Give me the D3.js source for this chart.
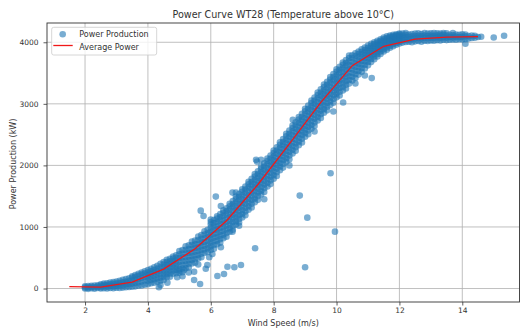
<!DOCTYPE html>
<html>
<head>
<meta charset="utf-8">
<script src="https://cdn.jsdelivr.net/npm/d3@7"></script>
<style>
  body { margin: 0; background: #fff; }
  svg { display: block; font-family: "DejaVu Sans", sans-serif; }
</style>
</head>
<body>
<div id="chart"></div>
<script>
// tick labels
const xTicks = [2, 4, 6, 8, 10, 12, 14];
const yTicks = [0, 1000, 2000, 3000, 4000];

// binned average power (red line)
const avgSpeed = [1.5, 2.5, 3.5, 4.5, 5.5, 6.5, 7.5, 8.5, 9.5, 10.5, 11.5, 12.5, 13.5, 14.5];
const avgPower = [30, 22, 105, 315, 645, 1100, 1690, 2350, 3025, 3620, 3935, 4052, 4082, 4092];

// main cloud of measurements, one column per wind speed
const bandSpeed = [
  2.0, 2.1, 2.2, 2.3, 2.4, 2.5, 2.6, 2.7, 2.8, 2.9,
  3.0, 3.1, 3.2, 3.3, 3.4, 3.5, 3.6, 3.7, 3.8, 3.9,
  4.0, 4.1, 4.2, 4.3, 4.4, 4.5, 4.6, 4.7, 4.8, 4.9,
  5.0, 5.1, 5.2, 5.3, 5.4, 5.5, 5.6, 5.7, 5.8, 5.9,
  6.0, 6.1, 6.2, 6.3, 6.4, 6.5, 6.6, 6.7, 6.8, 6.9,
  7.0, 7.1, 7.2, 7.3, 7.4, 7.5, 7.6, 7.7, 7.8, 7.9,
  8.0, 8.1, 8.2, 8.3, 8.4, 8.5, 8.6, 8.7, 8.8, 8.9,
  9.0, 9.1, 9.2, 9.3, 9.4, 9.5, 9.6, 9.7, 9.8, 9.9,
  10.0, 10.1, 10.2, 10.3, 10.4, 10.5, 10.6, 10.7, 10.8, 10.9,
  11.0, 11.1, 11.2, 11.3, 11.4, 11.5, 11.6, 11.7, 11.8, 11.9,
  12.0, 12.1, 12.2, 12.3, 12.4, 12.5, 12.6, 12.7, 12.8, 12.9,
  13.0, 13.1, 13.2, 13.3, 13.4, 13.5, 13.6, 13.7, 13.8, 13.9,
  14.0, 14.1, 14.2, 14.3, 14.4, 14.5, 14.6
];
const bandPower = [
  [0, 18, 36], [-5, 15, 40], [5, 25, 45], [-3, 20, 48], [8, 30, 52],
  [0, 22, 50, 70], [5, 35, 62, 80], [2, 30, 58, 85], [10, 40, 70, 95], [5, 35, 75, 105],
  [12, 45, 80, 115], [8, 50, 90, 125], [15, 55, 100, 140], [20, 65, 110, 155], [25, 70, 120, 165],
  [30, 80, 130, 180, 200], [35, 90, 140, 190, 220], [45, 100, 155, 205, 240], [50, 115, 170, 225, 260], [60, 130, 190, 245, 280],
  [70, 125, 175, 220, 260, 300], [85, 140, 190, 240, 280, 320], [95, 150, 205, 255, 300, 345], [110, 165, 220, 270, 320, 370], [125, 180, 235, 290, 345, 400],
  [140, 190, 240, 290, 340, 390, 430], [186, 236, 286, 336, 386, 431, 466], [193, 243, 293, 343, 393, 443, 483], [241, 291, 341, 391, 441, 486, 521], [250, 300, 350, 400, 450, 500, 540],
  [255, 315, 375, 435, 495, 555, 610], [266, 326, 386, 446, 506, 566, 626], [329, 389, 449, 509, 569, 629, 684], [342, 402, 462, 522, 582, 642, 702], [406, 466, 526, 586, 646, 706, 761],
  [420, 480, 540, 600, 660, 720, 780], [488, 548, 608, 668, 728, 788, 843], [507, 567, 627, 687, 747, 807, 867], [576, 636, 696, 756, 816, 876, 931], [595, 655, 715, 775, 835, 895, 955],
  [625, 685, 745, 805, 865, 925, 985, 1040, 1080], [647, 707, 767, 827, 887, 947, 1007, 1062, 1112],
  [720, 780, 840, 900, 960, 1020, 1080, 1135, 1175], [743, 803, 863, 923, 983, 1043, 1103, 1158, 1208],
  [816, 876, 936, 996, 1056, 1116, 1176, 1231, 1271], [840, 900, 960, 1020, 1080, 1140, 1200, 1255, 1305],
  [922, 982, 1042, 1102, 1162, 1222, 1282, 1337, 1377], [955, 1015, 1075, 1135, 1195, 1255, 1315, 1370, 1420],
  [1038, 1098, 1158, 1218, 1278, 1338, 1398, 1453, 1493], [1071, 1131, 1191, 1251, 1311, 1371, 1431, 1486, 1536],
  [1155, 1215, 1275, 1335, 1395, 1455, 1515, 1570, 1610], [1192, 1252, 1312, 1372, 1432, 1492, 1552, 1607, 1657],
  [1279, 1339, 1399, 1459, 1519, 1579, 1639, 1694, 1734], [1316, 1376, 1436, 1496, 1556, 1616, 1676, 1731, 1781],
  [1403, 1463, 1523, 1583, 1643, 1703, 1763, 1818, 1858], [1440, 1500, 1560, 1620, 1680, 1740, 1800, 1855, 1905],
  [1529, 1589, 1649, 1709, 1769, 1829, 1889, 1944, 1984], [1568, 1628, 1688, 1748, 1808, 1868, 1928, 1983, 2033],
  [1657, 1717, 1777, 1837, 1897, 1957, 2017, 2072, 2112], [1696, 1756, 1816, 1876, 1936, 1996, 2056, 2111, 2161],
  [1785, 1845, 1905, 1965, 2025, 2085, 2145, 2200, 2240], [1828, 1888, 1948, 2008, 2068, 2128, 2188, 2243, 2293],
  [1921, 1981, 2041, 2101, 2161, 2221, 2281, 2336, 2376], [1964, 2024, 2084, 2144, 2204, 2264, 2324, 2379, 2429],
  [2057, 2117, 2177, 2237, 2297, 2357, 2417, 2472, 2512], [2100, 2160, 2220, 2280, 2340, 2400, 2460, 2515, 2565],
  [2193, 2253, 2313, 2373, 2433, 2493, 2553, 2608, 2648], [2236, 2296, 2356, 2416, 2476, 2536, 2596, 2651, 2701],
  [2329, 2389, 2449, 2509, 2569, 2629, 2689, 2744, 2784], [2372, 2432, 2492, 2552, 2612, 2672, 2732, 2787, 2837],
  [2465, 2525, 2585, 2645, 2705, 2765, 2825, 2880, 2920], [2506, 2566, 2626, 2686, 2746, 2806, 2866, 2921, 2971],
  [2597, 2657, 2717, 2777, 2837, 2897, 2957, 3012, 3052], [2638, 2698, 2758, 2818, 2878, 2938, 2998, 3053, 3103],
  [2729, 2789, 2849, 2909, 2969, 3029, 3089, 3144, 3184], [2770, 2830, 2890, 2950, 3010, 3070, 3130, 3185, 3235],
  [2857, 2917, 2977, 3037, 3097, 3157, 3217, 3272, 3312], [2894, 2954, 3014, 3074, 3134, 3194, 3254, 3309, 3359],
  [2981, 3041, 3101, 3161, 3221, 3281, 3341, 3396, 3436], [3018, 3078, 3138, 3198, 3258, 3318, 3378, 3433, 3483],
  [3105, 3165, 3225, 3285, 3345, 3405, 3465, 3520, 3560], [3136, 3196, 3256, 3316, 3376, 3436, 3496, 3551, 3601],
  [3217, 3277, 3337, 3397, 3457, 3517, 3577, 3632, 3672], [3248, 3308, 3368, 3428, 3488, 3548, 3608, 3663, 3713],
  [3329, 3389, 3449, 3509, 3569, 3629, 3689, 3744, 3784],
  [3380, 3440, 3500, 3560, 3620, 3680, 3740, 3790], [3420, 3480, 3540, 3600, 3660, 3720, 3775, 3820],
  [3475, 3535, 3595, 3650, 3705, 3760, 3810, 3850], [3520, 3580, 3640, 3695, 3750, 3800, 3845, 3885],
  [3575, 3635, 3690, 3740, 3790, 3835, 3875, 3915], [3625, 3680, 3735, 3785, 3830, 3870, 3910, 3945],
  [3680, 3730, 3780, 3825, 3865, 3905, 3940, 3975], [3725, 3770, 3815, 3855, 3895, 3935, 3970, 4000],
  [3770, 3810, 3850, 3890, 3925, 3960, 3995, 4025], [3810, 3850, 3890, 3925, 3960, 3995, 4025, 4050],
  [3850, 3885, 3920, 3955, 3990, 4020, 4050, 4075], [3880, 3915, 3950, 3985, 4015, 4045, 4070, 4095],
  [3910, 3945, 3980, 4010, 4040, 4065, 4090, 4110], [3935, 3970, 4000, 4030, 4055, 4080, 4100, 4120],
  [3960, 3990, 4020, 4045, 4070, 4095, 4115, 4130], [3980, 4010, 4035, 4060, 4085, 4105, 4125, 4140],
  [3995, 4035, 4075, 4110, 4140], [4005, 4045, 4085, 4120, 4150], [4010, 4050, 4090, 4125], [4000, 4055, 4095, 4135],
  [4015, 4060, 4100, 4140], [4020, 4065, 4105, 4145], [4010, 4060, 4100, 4135], [4025, 4070, 4110, 4150], [4020, 4065, 4105, 4140],
  [4030, 4075, 4110, 4145], [4025, 4070, 4105, 4150], [4035, 4080, 4115, 4145], [4030, 4070, 4110, 4140], [4040, 4080, 4120, 4150],
  [4035, 4075, 4110, 4145], [4040, 4085, 4120], [4045, 4080, 4115, 4150], [4040, 4090, 4125], [4050, 4085, 4120],
  [4045, 4090, 4130], [4055, 4095, 4125], [4060, 4100], [4070, 4110], [4075, 4105],
  [4085], [4090]
];

// scattered points away from the main cloud
const outlierSpeed = [7.44, 9.81, 8.83, 9.07, 9.95, 7.41, 9.0, 10.21, 9.9, 6.16,
  5.68, 5.77, 6.69, 6.32, 6.69, 6.32, 5.95, 5.84, 6.53, 6.75,
  6.96, 6.21, 6.42, 5.47, 5.66, 4.99, 4.93, 4.35, 5.47, 8.61,
  11.12, 10.9, 15.0, 15.33, 14.1, 5.15, 5.89, 4.4, 7.47,
  4.62, 5.1, 5.3, 5.6, 6.05, 6.9, 7.7, 8.5, 9.3, 10.6, 6.0, 6.8, 7.6];
const outlierPower = [2090, 1873, 1509, 1151, 924, 654, 345, 3021, 2875, 1493,
  1265, 1179, 1558, 1341, 924, 670, 507, 322, 354, 345,
  382, 203, 236, 138, 73, 289, 182, 20, 273, 2740,
  3418, 3460, 4078, 4105, 3975, 300, 382, 57, 2062,
  95, 200, 260, 390, 560, 1020, 1450, 2000, 2550, 3330, 1120, 1560, 2090];

const width = 521, height = 331;
const plot = { left: 47, right: 519.5, top: 23, bottom: 302 };

const svg = d3
  .select("#chart")
  .append("svg")
  .attr("width", width)
  .attr("height", height);

const x = d3.scaleLinear().domain([0.79, 15.82]).range([plot.left, plot.right]);
const y = d3.scaleLinear().domain([-219, 4313]).range([plot.bottom, plot.top]);

// grid
svg
  .append("g")
  .selectAll("line")
  .data(xTicks)
  .join("line")
  .attr("x1", (d) => x(d))
  .attr("x2", (d) => x(d))
  .attr("y1", plot.top)
  .attr("y2", plot.bottom)
  .attr("stroke", "#b0b0b0")
  .attr("stroke-width", 0.8);
svg
  .append("g")
  .selectAll("line")
  .data(yTicks)
  .join("line")
  .attr("x1", plot.left)
  .attr("x2", plot.right)
  .attr("y1", (d) => y(d))
  .attr("y2", (d) => y(d))
  .attr("stroke", "#b0b0b0")
  .attr("stroke-width", 0.8);

const points = [];
bandSpeed.forEach((s, i) => {
  bandPower[i].forEach((p) => points.push({ s: s, p: p }));
});
outlierSpeed.forEach((s, i) => points.push({ s: s, p: outlierPower[i] }));

svg
  .append("g")
  .selectAll("circle")
  .data(points)
  .join("circle")
  .attr("cx", (d) => x(d.s))
  .attr("cy", (d) => y(d.p))
  .attr("r", 3.3)
  .attr("fill", "#1f77b4")
  .attr("fill-opacity", 0.6);

const line = d3
  .line()
  .x((d, i) => x(avgSpeed[i]))
  .y((d) => y(d));

svg
  .append("path")
  .datum(avgPower)
  .attr("d", line)
  .attr("fill", "none")
  .attr("stroke", "#f01818")
  .attr("stroke-width", 1.3);

// frame
svg
  .append("rect")
  .attr("x", plot.left)
  .attr("y", plot.top)
  .attr("width", plot.right - plot.left)
  .attr("height", plot.bottom - plot.top)
  .attr("fill", "none")
  .attr("stroke", "#333")
  .attr("stroke-width", 0.9);

const xAxis = svg
  .append("g")
  .attr("transform", `translate(0,${plot.bottom})`)
  .call(d3.axisBottom(x).tickValues(xTicks).tickSize(3.5).tickPadding(2.5).tickFormat(d3.format("d")));
const yAxis = svg
  .append("g")
  .attr("transform", `translate(${plot.left},0)`)
  .call(d3.axisLeft(y).tickValues(yTicks).tickSize(3.5).tickPadding(5).tickFormat(d3.format("d")));

[xAxis, yAxis].forEach((g) => {
  g.select(".domain").remove();
  g.selectAll("line").attr("stroke", "#333").attr("stroke-width", 0.8);
  g.selectAll("text")
    .attr("fill", "#333")
    .style("font-family", "DejaVu Sans")
    .style("font-size", "7.5px");
});

svg
  .append("text")
  .attr("x", (plot.left + plot.right) / 2)
  .attr("y", 326)
  .attr("text-anchor", "middle")
  .attr("font-size", 8)
  .attr("fill", "#333")
  .text("Wind Speed (m/s)");

svg
  .append("text")
  .attr("transform", `translate(16,164) rotate(-90)`)
  .attr("text-anchor", "middle")
  .attr("font-size", 8)
  .attr("fill", "#333")
  .text("Power Production (kW)");

svg
  .append("text")
  .attr("x", (plot.left + plot.right) / 2)
  .attr("y", 17.5)
  .attr("text-anchor", "middle")
  .attr("font-size", 9.6)
  .attr("fill", "#333")
  .text("Power Curve WT28 (Temperature above 10°C)");

// legend
const legend = svg.append("g");
legend
  .append("rect")
  .attr("x", 51.7)
  .attr("y", 27.3)
  .attr("width", 105)
  .attr("height", 27.7)
  .attr("rx", 2)
  .attr("fill", "#fff")
  .attr("fill-opacity", 0.8)
  .attr("stroke", "#ccc")
  .attr("stroke-width", 0.8);
legend
  .append("circle")
  .attr("cx", 62.7)
  .attr("cy", 34.3)
  .attr("r", 3.3)
  .attr("fill", "#1f77b4")
  .attr("fill-opacity", 0.6);
legend
  .append("line")
  .attr("x1", 53.3)
  .attr("x2", 72.7)
  .attr("y1", 45.5)
  .attr("y2", 45.5)
  .attr("stroke", "#f01818")
  .attr("stroke-width", 1.3);
legend
  .append("text")
  .attr("x", 79.3)
  .attr("y", 37)
  .attr("font-size", 8)
  .attr("fill", "#333")
  .text("Power Production");
legend
  .append("text")
  .attr("x", 79.3)
  .attr("y", 49.5)
  .attr("font-size", 8)
  .attr("fill", "#333")
  .text("Average Power");
</script>
</body>
</html>
